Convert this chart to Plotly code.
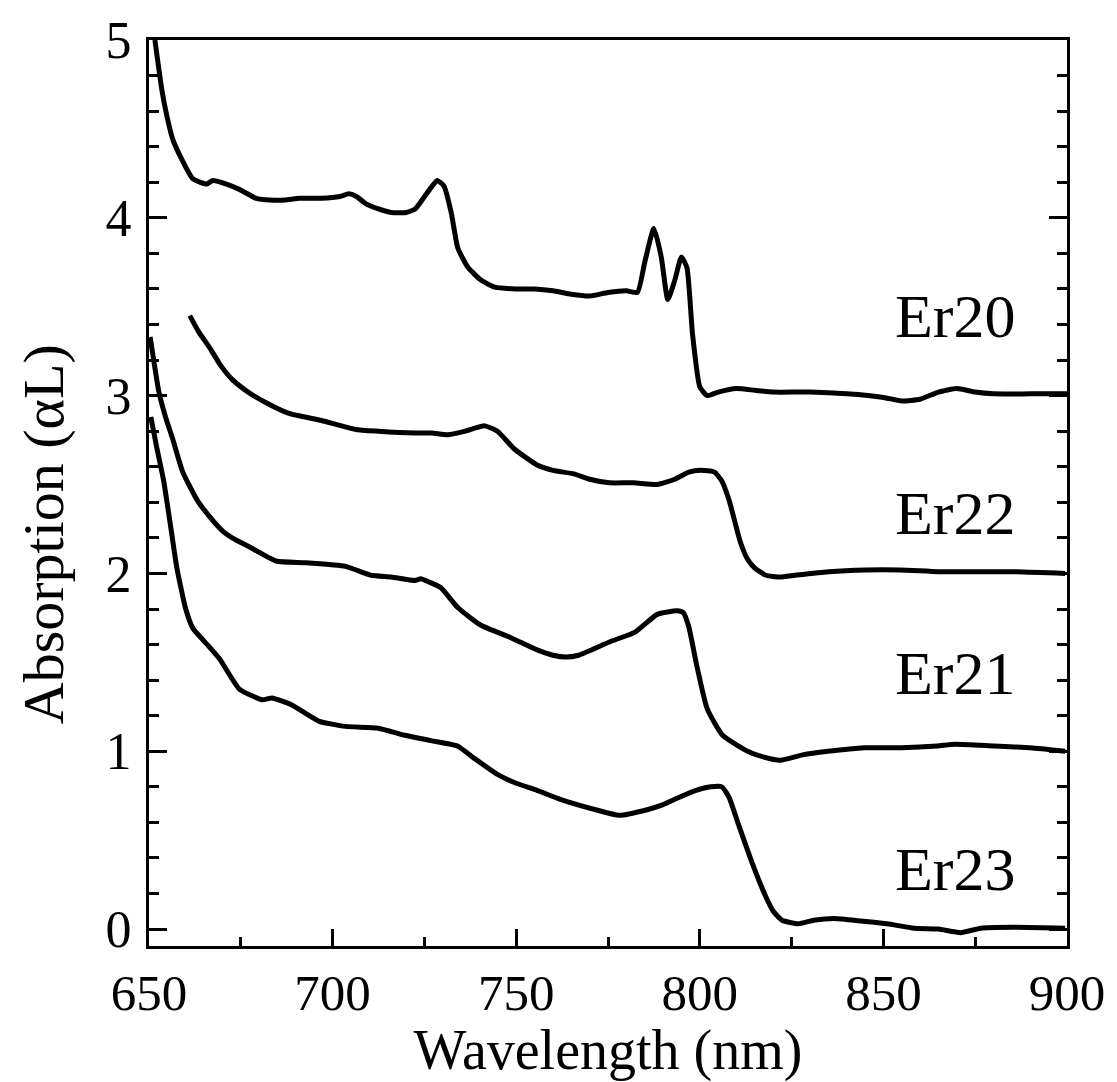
import plotly.graph_objects as go

# ---- data ----
wl20 = [651.6, 653.5, 654.9, 656.5, 658.9, 661.9, 665.7, 667.3, 671.1, 674.6, 679.2, 683, 687, 691, 697, 702,
        704.4, 706.5, 709, 712.5, 716, 720, 722.5, 724.7, 726.8, 728.5, 730.3, 732.3, 734.1, 736.9, 740.4, 744.2,
        750, 755, 760, 765, 770, 775, 780, 783, 785, 787.5, 789.5, 791.3, 793.2, 795, 796.5, 798, 800, 802, 805,
        810, 815, 820, 830, 840, 850, 855, 860, 865, 870, 875, 880, 890, 900]
ab20 = [5.0, 4.72, 4.57, 4.44, 4.33, 4.22, 4.19, 4.21, 4.19, 4.16, 4.11, 4.10, 4.10, 4.11, 4.11, 4.12,
        4.135, 4.12, 4.08, 4.05, 4.03, 4.03, 4.05, 4.11, 4.17, 4.21, 4.18, 4.03, 3.83, 3.72, 3.65, 3.61,
        3.60, 3.60, 3.59, 3.57, 3.56, 3.58, 3.59, 3.58, 3.75, 3.94, 3.78, 3.54, 3.65, 3.78, 3.72, 3.35, 3.05, 3.00, 3.02,
        3.04, 3.03, 3.02, 3.02, 3.01, 2.99, 2.97, 2.98, 3.02, 3.04, 3.02, 3.01, 3.01, 3.01]

wl22 = [661.1, 663.5, 666.5, 669.5, 672.7, 677, 681.9, 688.1, 697, 706.2, 712.4, 722.4, 727, 731.4, 736, 741.4,
        744.9, 749.5, 755.7, 760, 765.7, 770, 775.4, 782, 788.4, 793.2, 797, 800.3, 804, 806, 808, 811, 813, 815,
        818, 821.9, 826, 835, 845, 854.6, 865, 874.6, 885, 899.5]
ab22 = [3.45, 3.36, 3.27, 3.17, 3.09, 3.02, 2.96, 2.90, 2.86, 2.81, 2.80, 2.79, 2.79, 2.78, 2.80, 2.83,
        2.80, 2.70, 2.61, 2.58, 2.56, 2.53, 2.51, 2.51, 2.50, 2.53, 2.57, 2.58, 2.57, 2.52, 2.41, 2.18, 2.08, 2.03,
        1.99, 1.98, 1.99, 2.01, 2.02, 2.02, 2.01, 2.01, 2.01, 2.00]

wl21 = [650.3, 651.5, 652.7, 654.5, 656.4, 659.2, 663.2, 666.5, 670, 673.5, 677.3, 684.6, 692.7, 703.5, 710.5,
        716, 722.4, 724, 726.5, 729.5, 734, 740.3, 748.4, 755.7, 760, 763.5, 767, 770.5, 776, 782.4, 788.4,
        793.8, 795.5, 797, 799.2, 802, 806.2, 813, 817, 821.9, 828, 834.9, 844.9, 855, 864.6, 869.5, 880, 890, 899.5]
ab21 = [3.33, 3.17, 3.02, 2.88, 2.76, 2.57, 2.41, 2.32, 2.24, 2.19, 2.15, 2.07, 2.06, 2.04, 1.99,
        1.98, 1.96, 1.97, 1.95, 1.92, 1.81, 1.71, 1.64, 1.57, 1.54, 1.53, 1.54, 1.57, 1.62, 1.67, 1.77,
        1.79, 1.78, 1.70, 1.48, 1.24, 1.09, 1.00, 0.97, 0.95, 0.98, 1.00, 1.02, 1.02, 1.03, 1.04, 1.03, 1.02, 1.00]

wl23 = [650.5, 652, 654, 656, 657.6, 660, 662, 665, 669.2, 674.6, 680.8, 683.5, 688.9, 696.2, 703.5, 712.4,
        719.7, 726.8, 734, 738.6, 744.9, 750, 755.7, 762, 771.9, 778, 785.4, 790, 794.3, 799, 803, 806, 808,
        810.5, 814.3, 817.8, 820, 822.4, 826.8, 831, 836.8, 844, 851, 858.4, 865, 871, 876.5, 885, 899.5]
ab23 = [2.88, 2.72, 2.52, 2.25, 2.03, 1.80, 1.69, 1.62, 1.52, 1.35, 1.29, 1.30, 1.26, 1.17, 1.14, 1.13,
        1.09, 1.06, 1.03, 0.96, 0.87, 0.82, 0.78, 0.73, 0.67, 0.64, 0.67, 0.70, 0.74, 0.78, 0.80, 0.80, 0.74,
        0.59, 0.37, 0.19, 0.10, 0.05, 0.03, 0.05, 0.06, 0.045, 0.03, 0.005, 0.0, -0.02, 0.005, 0.01, 0.005]

series = [("Er20", wl20, ab20), ("Er22", wl22, ab22), ("Er21", wl21, ab21), ("Er23", wl23, ab23)]

label_names = ["Er20", "Er22", "Er21", "Er23"]
label_x = [852.5, 852.5, 852.5, 852.5]
label_y = [3.45, 2.34, 1.44, 0.34]

x_ticks = [650, 700, 750, 800, 850, 900]
y_ticks = [0, 1, 2, 3, 4, 5]

x_title = "Wavelength (nm)"
y_title = "Absorption (αL)"

FONT = "Liberation Serif, Times New Roman, serif"

fig = go.Figure()
for name, x, y in series:
    fig.add_trace(go.Scatter(x=x, y=y, mode="lines", name=name,
                             line=dict(color="black", width=5, shape="spline", smoothing=0.5),
                             showlegend=False))

for name, lx, ly in zip(label_names, label_x, label_y):
    fig.add_annotation(x=lx, y=ly, text=name, showarrow=False, xanchor="left", yanchor="middle",
                       font=dict(family=FONT, size=62, color="black"))

# y-axis title placed as a rotated annotation (sits lower than the plot centre in the reference)
fig.add_annotation(xref="paper", yref="paper", x=-0.115, y=0.455, text=y_title, textangle=-90,
                   showarrow=False, xanchor="center", yanchor="middle",
                   font=dict(family=FONT, size=58, color="black"))

fig.update_layout(
    width=1117, height=1082,
    margin=dict(l=149, r=44, t=32, b=131),
    paper_bgcolor="white", plot_bgcolor="white",
    font=dict(family=FONT, color="black"),
)

fig.update_xaxes(
    range=[650, 900], tickvals=x_ticks, ticktext=[str(v) for v in x_ticks],
    ticks="inside", ticklen=17, tickwidth=3, tickcolor="black",
    minor=dict(dtick=25, tick0=650, ticks="inside", ticklen=9, tickwidth=3, tickcolor="black"),
    showline=True, linecolor="black", linewidth=3, mirror=True,
    showgrid=False, zeroline=False,
    tickfont=dict(family=FONT, size=51, color="black"),
    title=dict(text=x_title, font=dict(family=FONT, size=56, color="black"), standoff=10),
)
fig.update_yaxes(
    range=[-0.095, 5], tickvals=y_ticks, ticktext=[str(v) for v in y_ticks],
    ticks="inside", ticklen=18, tickwidth=3, tickcolor="black",
    minor=dict(dtick=0.2, tick0=0, ticks="inside", ticklen=10, tickwidth=3, tickcolor="black"),
    showline=True, linecolor="black", linewidth=3, mirror="ticks",
    showgrid=False, zeroline=False, ticklabelstandoff=4,
    tickfont=dict(family=FONT, size=52, color="black"),
)

fig.write_html("out.html")
